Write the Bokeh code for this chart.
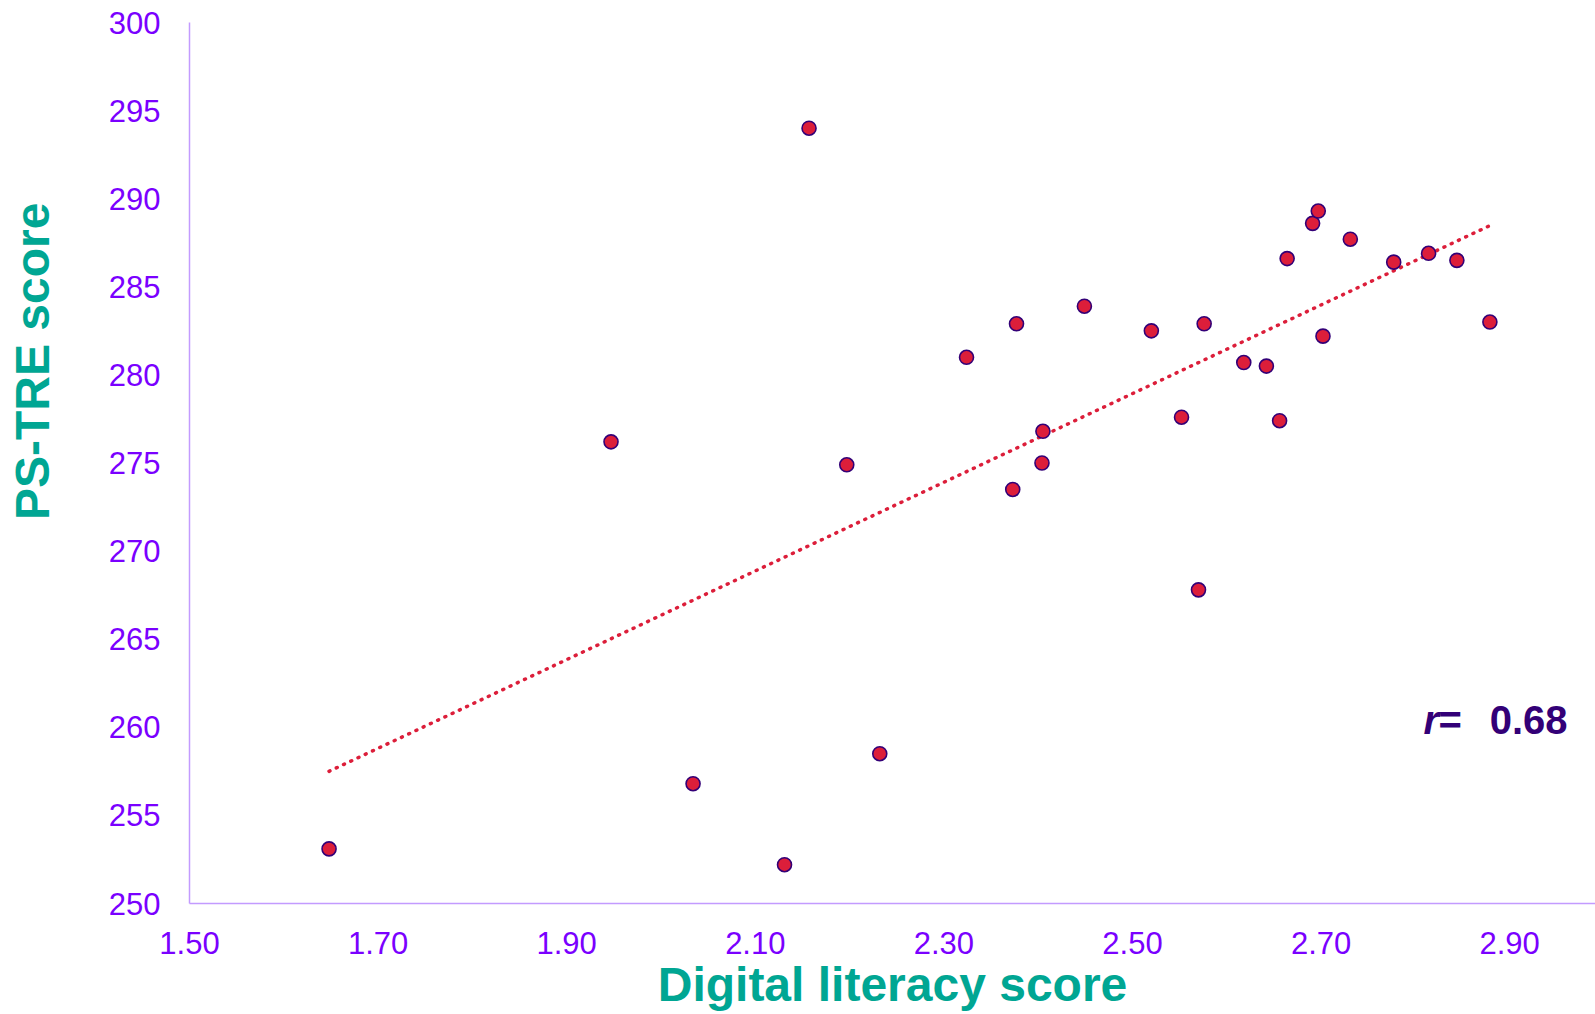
import math
from bokeh.plotting import figure
from bokeh.layouts import row
from bokeh.models import FixedTicker, NumeralTickFormatter, Label, Range1d
from bokeh.core.properties import value
from bokeh.embed import file_html
from bokeh.resources import INLINE

# Data
digital_literacy = [1.648, 1.947, 2.034, 2.131, 2.157, 2.197, 2.232, 2.324, 2.373, 2.377,
                    2.405, 2.404, 2.449, 2.520, 2.552, 2.570, 2.576, 2.618, 2.642, 2.656,
                    2.664, 2.691, 2.697, 2.702, 2.731, 2.777, 2.814, 2.844, 2.879]
ps_tre_score = [253.1, 276.2, 256.8, 252.2, 294.0, 274.9, 258.5, 281.0, 273.5, 282.9,
                276.8, 275.0, 283.9, 282.5, 277.6, 267.8, 282.9, 280.7, 280.5, 277.4,
                286.6, 288.6, 289.3, 282.2, 287.7, 286.4, 286.9, 286.5, 283.0]
trend_x = [1.648, 2.880]
trend_y = [257.5, 288.5]
x_ticks = [1.50, 1.70, 1.90, 2.10, 2.30, 2.50, 2.70, 2.90]
y_ticks = [250, 255, 260, 265, 270, 275, 280, 285, 290, 295, 300]
r_value = "0.68"
x_title = "Digital literacy score"
y_title = "PS-TRE score"

TEAL = "#00A693"
VIOLET = "#7A00FF"
AXIS = "#C39BFF"
DARK = "#330077"
RED = "#DC1E3A"

TITLE_W = 80
H = 1014

# narrow strip on the left that carries the vertical axis title
t = figure(width=TITLE_W, height=H, output_backend="svg", toolbar_location=None,
           x_range=Range1d(0, TITLE_W), y_range=Range1d(0, H),
           min_border=0, outline_line_color=None)
t.axis.visible = False
t.grid.visible = False
t.text(x=[31.5], y=[H - 390], text=[y_title], angle=math.pi / 2,
       text_font=value("Liberation Sans"), text_font_style="bold",
       text_font_size="48px", text_color=TEAL,
       text_align="center", text_baseline="middle")

p = figure(width=1595 - TITLE_W, height=H, output_backend="svg", toolbar_location=None,
           x_range=Range1d(1.5, 2.991), y_range=Range1d(250, 300),
           min_border_left=189 - TITLE_W, min_border_right=0, min_border_top=22,
           min_border_bottom=111)
p.outline_line_color = None
p.xgrid.visible = False
p.ygrid.visible = False

for ax in (p.xaxis[0], p.yaxis[0]):
    ax.axis_line_color = AXIS
    ax.axis_line_width = 1.5
    ax.major_tick_line_color = None
    ax.minor_tick_line_color = None
    ax.major_tick_out = 0
    ax.major_tick_in = 0
    ax.major_label_text_color = VIOLET
    ax.major_label_text_font = "Liberation Sans"
    ax.major_label_text_font_size = "31px"
    ax.axis_label_text_color = TEAL
    ax.axis_label_text_font = "Liberation Sans"
    ax.axis_label_text_font_style = "bold"
    ax.axis_label_text_font_size = "48px"

p.xaxis.ticker = FixedTicker(ticks=x_ticks)
p.xaxis.formatter = NumeralTickFormatter(format="0.00")
p.yaxis.ticker = FixedTicker(ticks=y_ticks)
p.xaxis.axis_label = x_title
p.xaxis.major_label_standoff = 28
p.yaxis.major_label_standoff = 29
p.xaxis.axis_label_standoff = 1
p.xaxis.axis_label_text_line_height = 1.0
p.xaxis.major_label_text_line_height = 1.0

p.line(trend_x, trend_y, line_color=RED, line_width=3.5, line_dash="1 7",
       line_cap="round")
p.scatter(digital_literacy, ps_tre_score, size=14, fill_color=RED,
          line_color=DARK, line_width=1.6)

p.add_layout(Label(x=2.8086, y=260.39, text="r", text_font="Liberation Sans",
                   text_font_style="bold italic", text_font_size="40px",
                   text_color=DARK, text_baseline="middle", text_align="left"))
p.add_layout(Label(x=2.8245, y=260.39, text="=", text_font="Liberation Sans",
                   text_font_style="bold", text_font_size="40px",
                   text_color=DARK, text_baseline="middle", text_align="left"))
p.add_layout(Label(x=2.9613, y=260.39, text=r_value, text_font="Liberation Sans",
                   text_font_style="bold", text_font_size="40px",
                   text_color=DARK, text_baseline="middle", text_align="right"))

layout = row(t, p)
open("out.html", "w").write(file_html(layout, INLINE))
